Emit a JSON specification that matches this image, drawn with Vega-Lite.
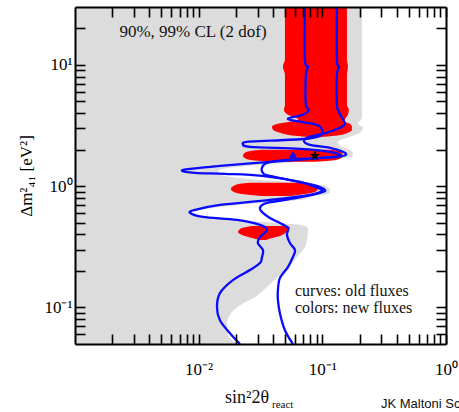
{
  "$schema": "https://vega.github.io/schema/vega-lite/v6.json",
  "width": 371,
  "height": 337,
  "autosize": {"type": "none"},
  "padding": {"left": 75, "top": 7, "right": 13, "bottom": 68},
  "background": "white",
  "config": {
    "view": {"stroke": null},
    "axis": {"grid": false, "labelColor": "#000000", "titleColor": "#000000", "labelFont": "Liberation Serif", "titleFont": "Liberation Serif", "labelFontSize": 17, "titleFontSize": 17, "titleFontWeight": "normal", "labelFlush": false}
  },
  "datasets": {
    "gray": [
      {"y": 30, "x": 0.2089}, {"y": 3.67, "x": 0.2089}, {"y": 3.27, "x": 0.1941}, {"y": 3.03, "x": 0.2128}, {"y": 2.76, "x": 0.2014}, {"y": 2.56, "x": 0.1671}, {"y": 2.32, "x": 0.1336}, {"y": 2.11, "x": 0.1438}, {"y": 1.995, "x": 0.1671}, {"y": 1.884, "x": 0.1766}, {"y": 1.746, "x": 0.1734}, {"y": 1.65, "x": 0.115}, {"y": 1.558, "x": 0.0547}, {"y": 1.472, "x": 0.026}, {"y": 1.364, "x": 0.01486}, {"y": 1.288, "x": 0.01432}, {"y": 1.216, "x": 0.01632}, {"y": 1.127, "x": 0.03131}, {"y": 1.065, "x": 0.06596}, {"y": 1.006, "x": 0.105}, {"y": 0.932, "x": 0.115}, {"y": 0.88, "x": 0.115}, {"y": 0.831, "x": 0.0871}, {"y": 0.77, "x": 0.06596}, {"y": 0.728, "x": 0.03131}, {"y": 0.675, "x": 0.01486}, {"y": 0.637, "x": 0.01024}, {"y": 0.602, "x": 0.00851}, {"y": 0.568, "x": 0.01024}, {"y": 0.537, "x": 0.01791}, {"y": 0.507, "x": 0.03436}, {"y": 0.479, "x": 0.06596}, {"y": 0.452, "x": 0.07638}, {"y": 0.411, "x": 0.07638}, {"y": 0.36, "x": 0.07499}, {"y": 0.315, "x": 0.07228}, {"y": 0.2604, "x": 0.06237}, {"y": 0.2154, "x": 0.0537}, {"y": 0.178, "x": 0.0435}, {"y": 0.1472, "x": 0.0356}, {"y": 0.1217, "x": 0.02851}, {"y": 0.1045, "x": 0.02158}, {"y": 0.0897, "x": 0.01824}, {"y": 0.0742, "x": 0.01694}, {"y": 0.059, "x": 0.01726}, {"y": 0.05, "x": 0.0208}
    ],
    "red": [
      {"island": 1, "y": 30, "xl": 0.04985, "xr": 0.1581}, {"island": 1, "y": 11.06, "xl": 0.04985, "xr": 0.1581}, {"island": 1, "y": 9.67, "xl": 0.04797, "xr": 0.1611}, {"island": 1, "y": 8.31, "xl": 0.04985, "xr": 0.1581}, {"island": 1, "y": 4.7, "xl": 0.04985, "xr": 0.1581}, {"island": 1, "y": 4.27, "xl": 0.0489, "xr": 0.164}, {"island": 1, "y": 3.885, "xl": 0.0527, "xr": 0.1611}, {"island": 1, "y": 3.67, "xl": 0.0612, "xr": 0.155}, {"island": 1, "y": 3.53, "xl": 0.064, "xr": 0.1524}, {"island": 1, "y": 3.4, "xl": 0.0547, "xr": 0.1524}, {"island": 1, "y": 3.27, "xl": 0.04375, "xr": 0.1671}, {"island": 1, "y": 3.09, "xl": 0.03915, "xr": 0.1734}, {"island": 1, "y": 2.92, "xl": 0.0399, "xr": 0.1734}, {"island": 1, "y": 2.76, "xl": 0.04537, "xr": 0.1611}, {"island": 1, "y": 2.6, "xl": 0.0601, "xr": 0.1265}, {"island": 1, "y": 2.53, "xl": 0.0794, "xr": 0.0957},
      {"island": 3, "y": 1.995, "xl": 0.03251, "xr": 0.115}, {"island": 3, "y": 1.957, "xl": 0.027, "xr": 0.1336}, {"island": 3, "y": 1.884, "xl": 0.0237, "xr": 0.1438}, {"island": 3, "y": 1.78, "xl": 0.0228, "xr": 0.1465}, {"island": 3, "y": 1.681, "xl": 0.0241, "xr": 0.1386}, {"island": 3, "y": 1.619, "xl": 0.0301, "xr": 0.115}, {"island": 3, "y": 1.588, "xl": 0.0414, "xr": 0.0871},
      {"island": 4, "y": 1.065, "xl": 0.026, "xr": 0.066}, {"island": 4, "y": 1.045, "xl": 0.02158, "xr": 0.0794}, {"island": 4, "y": 1.006, "xl": 0.01928, "xr": 0.0871}, {"island": 4, "y": 0.95, "xl": 0.01824, "xr": 0.092}, {"island": 4, "y": 0.897, "xl": 0.01928, "xr": 0.0871}, {"island": 4, "y": 0.864, "xl": 0.0224, "xr": 0.0723}, {"island": 4, "y": 0.831, "xl": 0.0325, "xr": 0.0547},
      {"island": 5, "y": 0.47, "xl": 0.027, "xr": 0.0527}, {"island": 5, "y": 0.452, "xl": 0.0224, "xr": 0.0547}, {"island": 5, "y": 0.435, "xl": 0.0212, "xr": 0.0537}, {"island": 5, "y": 0.419, "xl": 0.0208, "xr": 0.0517}, {"island": 5, "y": 0.4035, "xl": 0.02158, "xr": 0.0489}, {"island": 5, "y": 0.3884, "xl": 0.0237, "xr": 0.0454}, {"island": 5, "y": 0.374, "xl": 0.027, "xr": 0.0392}, {"island": 5, "y": 0.36, "xl": 0.0313, "xr": 0.035}
    ],
    "curves": [
      {"curve": "a", "i": 1, "x": 0.07228, "y": 30}, {"curve": "a", "i": 2, "x": 0.07228, "y": 11.06}, {"curve": "a", "i": 3, "x": 0.07638, "y": 9.67}, {"curve": "a", "i": 4, "x": 0.07362, "y": 8.31}, {"curve": "a", "i": 5, "x": 0.07362, "y": 4.7}, {"curve": "a", "i": 6, "x": 0.0778, "y": 4.27}, {"curve": "a", "i": 7, "x": 0.06966, "y": 3.885}, {"curve": "a", "i": 8, "x": 0.0527, "y": 3.6}, {"curve": "a", "i": 9, "x": 0.06596, "y": 3.4}, {"curve": "a", "i": 10, "x": 0.09036, "y": 3.21}, {"curve": "a", "i": 11, "x": 0.09931, "y": 2.92}, {"curve": "a", "i": 12, "x": 0.09572, "y": 2.6}, {"curve": "a", "i": 13, "x": 0.07499, "y": 2.46}, {"curve": "a", "i": 14, "x": 0.03767, "y": 2.37}, {"curve": "a", "i": 15, "x": 0.02453, "y": 2.32}, {"curve": "a", "i": 16, "x": 0.0228, "y": 2.24}, {"curve": "a", "i": 17, "x": 0.026, "y": 2.11}, {"curve": "a", "i": 18, "x": 0.06596, "y": 2.03}, {"curve": "a", "i": 19, "x": 0.115, "y": 1.92}, {"curve": "a", "i": 20, "x": 0.1386, "y": 1.814}, {"curve": "a", "i": 21, "x": 0.1219, "y": 1.746}, {"curve": "a", "i": 22, "x": 0.07943, "y": 1.681}, {"curve": "a", "i": 23, "x": 0.03767, "y": 1.588}, {"curve": "a", "i": 24, "x": 0.01486, "y": 1.472}, {"curve": "a", "i": 25, "x": 0.00851, "y": 1.39}, {"curve": "a", "i": 26, "x": 0.00733, "y": 1.338}, {"curve": "a", "i": 27, "x": 0.00933, "y": 1.288}, {"curve": "a", "i": 28, "x": 0.01632, "y": 1.264}, {"curve": "a", "i": 29, "x": 0.03251, "y": 1.216}, {"curve": "a", "i": 30, "x": 0.06596, "y": 1.085}, {"curve": "a", "i": 31, "x": 0.09204, "y": 0.968}, {"curve": "a", "i": 32, "x": 0.09931, "y": 0.915}, {"curve": "a", "i": 33, "x": 0.07943, "y": 0.847}, {"curve": "a", "i": 34, "x": 0.03767, "y": 0.77}, {"curve": "a", "i": 35, "x": 0.01486, "y": 0.701}, {"curve": "a", "i": 36, "x": 0.00933, "y": 0.637}, {"curve": "a", "i": 37, "x": 0.00851, "y": 0.602}, {"curve": "a", "i": 38, "x": 0.01083, "y": 0.558}, {"curve": "a", "i": 39, "x": 0.02042, "y": 0.527}, {"curve": "a", "i": 40, "x": 0.03131, "y": 0.479}, {"curve": "a", "i": 41, "x": 0.03563, "y": 0.435}, {"curve": "a", "i": 42, "x": 0.03131, "y": 0.381}, {"curve": "a", "i": 43, "x": 0.03011, "y": 0.34}, {"curve": "a", "i": 44, "x": 0.03311, "y": 0.2975}, {"curve": "a", "i": 45, "x": 0.03251, "y": 0.2604}, {"curve": "a", "i": 46, "x": 0.03131, "y": 0.2323}, {"curve": "a", "i": 47, "x": 0.026, "y": 0.2034}, {"curve": "a", "i": 48, "x": 0.01892, "y": 0.1681}, {"curve": "a", "i": 49, "x": 0.01486, "y": 0.1313}, {"curve": "a", "i": 50, "x": 0.01406, "y": 0.1006}, {"curve": "a", "i": 51, "x": 0.01486, "y": 0.0785}, {"curve": "a", "i": 52, "x": 0.01791, "y": 0.0613}, {"curve": "a", "i": 53, "x": 0.02158, "y": 0.05},
      {"curve": "b", "i": 1, "x": 0.1312, "y": 30}, {"curve": "b", "i": 2, "x": 0.1312, "y": 11.06}, {"curve": "b", "i": 3, "x": 0.1361, "y": 9.67}, {"curve": "b", "i": 4, "x": 0.1312, "y": 8.31}, {"curve": "b", "i": 5, "x": 0.1312, "y": 4.7}, {"curve": "b", "i": 6, "x": 0.1336, "y": 4.27}, {"curve": "b", "i": 7, "x": 0.1438, "y": 3.67}, {"curve": "b", "i": 8, "x": 0.1524, "y": 3.27}, {"curve": "b", "i": 9, "x": 0.1386, "y": 3.03}, {"curve": "b", "i": 10, "x": 0.1089, "y": 2.76}, {"curve": "b", "i": 11, "x": 0.07943, "y": 2.56}, {"curve": "b", "i": 12, "x": 0.07096, "y": 2.37}, {"curve": "b", "i": 13, "x": 0.07943, "y": 2.19}, {"curve": "b", "i": 14, "x": 0.115, "y": 2.07}, {"curve": "b", "i": 15, "x": 0.1465, "y": 1.92}, {"curve": "b", "i": 16, "x": 0.1552, "y": 1.814}, {"curve": "b", "i": 17, "x": 0.1336, "y": 1.746}, {"curve": "b", "i": 18, "x": 0.09572, "y": 1.713}, {"curve": "b", "i": 19, "x": 0.05172, "y": 1.65}, {"curve": "b", "i": 20, "x": 0.03563, "y": 1.558}, {"curve": "b", "i": 21, "x": 0.03251, "y": 1.416}, {"curve": "b", "i": 22, "x": 0.03311, "y": 1.288}, {"curve": "b", "i": 23, "x": 0.03767, "y": 1.216}, {"curve": "b", "i": 24, "x": 0.08394, "y": 1.025}, {"curve": "b", "i": 25, "x": 0.105, "y": 0.932}, {"curve": "b", "i": 26, "x": 0.09572, "y": 0.88}, {"curve": "b", "i": 27, "x": 0.06237, "y": 0.8}, {"curve": "b", "i": 28, "x": 0.03563, "y": 0.728}, {"curve": "b", "i": 29, "x": 0.03131, "y": 0.662}, {"curve": "b", "i": 30, "x": 0.03311, "y": 0.602}, {"curve": "b", "i": 31, "x": 0.03767, "y": 0.547}, {"curve": "b", "i": 32, "x": 0.04537, "y": 0.497}, {"curve": "b", "i": 33, "x": 0.0527, "y": 0.452}, {"curve": "b", "i": 34, "x": 0.05172, "y": 0.396}, {"curve": "b", "i": 35, "x": 0.0547, "y": 0.34}, {"curve": "b", "i": 36, "x": 0.06011, "y": 0.2975}, {"curve": "b", "i": 37, "x": 0.05781, "y": 0.2604}, {"curve": "b", "i": 38, "x": 0.0527, "y": 0.2154}, {"curve": "b", "i": 39, "x": 0.04537, "y": 0.1746}, {"curve": "b", "i": 40, "x": 0.04375, "y": 0.139}, {"curve": "b", "i": 41, "x": 0.04375, "y": 0.1149}, {"curve": "b", "i": 42, "x": 0.04537, "y": 0.0897}, {"curve": "b", "i": 43, "x": 0.04985, "y": 0.0649}, {"curve": "b", "i": 44, "x": 0.05781, "y": 0.05}
    ],
    "markers": [
      {"m": "old best fit", "x": 0.0578, "y": 1.814},
      {"m": "new best fit", "x": 0.0871, "y": 1.78}
    ]
  },
  "resolve": {"axis": {"x": "independent", "y": "independent"}},
  "layer": [
    {
      "data": {"name": "gray"},
      "mark": {"type": "area", "orient": "horizontal", "color": "#dcdcdc", "clip": true, "interpolate": "monotone"},
      "encoding": {
        "y": {"field": "y", "type": "quantitative", "scale": {"type": "log", "domain": [0.05, 30], "nice": false},
          "axis": {"orient": "left", "values": [0.06, 0.07, 0.08, 0.09, 0.1, 0.2, 0.3, 0.4, 0.5, 0.6, 0.7, 0.8, 0.9, 1, 2, 3, 4, 5, 6, 7, 8, 9, 10, 20], "tickSize": -10, "tickColor": "#000000", "tickWidth": 1.6, "domain": true, "domainColor": "#000000", "domainWidth": 2, "zindex": 3, "labelPadding": 13, "labelOverlap": false, "labelExpr": "datum.value > 0.099 && datum.value < 0.101 ? '10⁻¹' : datum.value > 0.99 && datum.value < 1.01 ? '10⁰' : datum.value > 9.9 && datum.value < 10.1 ? '10¹' : ''", "title": "Δm²₄₁  [eV²]", "titlePadding": 8}},
        "x": {"field": "x", "type": "quantitative", "scale": {"type": "log", "domain": [0.001, 1], "nice": false},
          "axis": {"orient": "bottom", "values": [0.002, 0.003, 0.004, 0.005, 0.006, 0.007, 0.008, 0.009, 0.01, 0.02, 0.03, 0.04, 0.05, 0.06, 0.07, 0.08, 0.09, 0.1, 0.2, 0.3, 0.4, 0.5, 0.6, 0.7, 0.8, 0.9, 1], "tickSize": -10, "tickColor": "#000000", "tickWidth": 1.6, "domain": true, "domainColor": "#000000", "domainWidth": 2, "zindex": 3, "labelPadding": 27, "labelOverlap": false, "labelExpr": "datum.value > 0.0099 && datum.value < 0.0101 ? '10⁻²' : datum.value > 0.099 && datum.value < 0.101 ? '10⁻¹' : datum.value > 0.99 && datum.value < 1.01 ? '10⁰' : ''", "title": null}},
        "x2": {"datum": 0.001}
      }
    },
    {
      "data": {"name": "red"},
      "mark": {"type": "area", "orient": "horizontal", "color": "#ff0000", "clip": true, "interpolate": "monotone"},
      "encoding": {
        "y": {"field": "y", "type": "quantitative", "scale": {"type": "log", "domain": [0.05, 30], "nice": false},
          "axis": {"orient": "right", "values": [0.06, 0.07, 0.08, 0.09, 0.1, 0.2, 0.3, 0.4, 0.5, 0.6, 0.7, 0.8, 0.9, 1, 2, 3, 4, 5, 6, 7, 8, 9, 10, 20], "tickSize": -10, "tickColor": "#000000", "tickWidth": 1.6, "labels": false, "domain": true, "domainColor": "#000000", "domainWidth": 2, "zindex": 3, "title": null}},
        "x": {"field": "xr", "type": "quantitative", "scale": {"type": "log", "domain": [0.001, 1], "nice": false},
          "axis": {"orient": "top", "values": [0.002, 0.003, 0.004, 0.005, 0.006, 0.007, 0.008, 0.009, 0.01, 0.02, 0.03, 0.04, 0.05, 0.06, 0.07, 0.08, 0.09, 0.1, 0.2, 0.3, 0.4, 0.5, 0.6, 0.7, 0.8, 0.9, 1], "tickSize": -10, "tickColor": "#000000", "tickWidth": 1.6, "labels": false, "domain": true, "domainColor": "#000000", "domainWidth": 2, "zindex": 3, "title": null}},
        "x2": {"field": "xl"},
        "detail": {"field": "island"}
      }
    },
    {
      "data": {"name": "curves"},
      "mark": {"type": "line", "color": "#0a0aff", "strokeWidth": 2.3, "clip": true, "interpolate": "cardinal"},
      "encoding": {
        "y": {"field": "y", "type": "quantitative", "scale": {"type": "log", "domain": [0.05, 30], "nice": false}, "axis": null},
        "x": {"field": "x", "type": "quantitative", "scale": {"type": "log", "domain": [0.001, 1], "nice": false}, "axis": null},
        "detail": {"field": "curve"},
        "order": {"field": "i"}
      }
    },
    {
      "data": {"name": "markers"},
      "mark": {"type": "point", "filled": true, "opacity": 1, "clip": true},
      "encoding": {
        "y": {"field": "y", "type": "quantitative", "scale": {"type": "log", "domain": [0.05, 30], "nice": false}, "axis": null},
        "x": {"field": "x", "type": "quantitative", "scale": {"type": "log", "domain": [0.001, 1], "nice": false}, "axis": null},
        "shape": {"field": "m", "type": "nominal", "scale": {"domain": ["old best fit", "new best fit"], "range": ["triangle-up", "M0,-1L0.23,-0.32L0.95,-0.31L0.37,0.12L0.59,0.81L0,0.39L-0.59,0.81L-0.37,0.12L-0.95,-0.31L-0.23,-0.32Z"]}, "legend": null},
        "color": {"field": "m", "type": "nominal", "scale": {"domain": ["old best fit", "new best fit"], "range": ["#1010f0", "#000000"]}, "legend": null},
        "size": {"field": "m", "type": "nominal", "scale": {"domain": ["old best fit", "new best fit"], "range": [75, 120]}, "legend": null}
      }
    },
    {
      "data": {"values": [{"label": "90%, 99% CL (2 dof)", "x": 0.009, "y": 18.5}]},
      "mark": {"type": "text", "font": "Liberation Serif", "fontSize": 17, "align": "center", "baseline": "middle", "color": "#111"},
      "encoding": {
        "x": {"field": "x", "type": "quantitative", "scale": {"type": "log", "domain": [0.001, 1], "nice": false}, "axis": null},
        "y": {"field": "y", "type": "quantitative", "scale": {"type": "log", "domain": [0.05, 30], "nice": false}, "axis": null},
        "text": {"field": "label"}
      }
    },
    {
      "data": {"values": [{"label": "curves: old fluxes", "x": 0.0601, "y": 0.1364}, {"label": "colors: new fluxes", "x": 0.0601, "y": 0.0987}]},
      "mark": {"type": "text", "font": "Liberation Serif", "fontSize": 16, "align": "left", "baseline": "middle", "color": "#111"},
      "encoding": {
        "x": {"field": "x", "type": "quantitative", "scale": {"type": "log", "domain": [0.001, 1], "nice": false}, "axis": null},
        "y": {"field": "y", "type": "quantitative", "scale": {"type": "log", "domain": [0.05, 30], "nice": false}, "axis": null},
        "text": {"field": "label"}
      }
    },
    {
      "data": {"values": [{"label": "sin²2θ", "x": 0.0246, "y": 0.0178}]},
      "mark": {"type": "text", "font": "Liberation Serif", "fontSize": 18, "align": "center", "baseline": "middle", "color": "#111"},
      "encoding": {
        "x": {"field": "x", "type": "quantitative", "scale": {"type": "log", "domain": [0.001, 1], "nice": false}, "axis": null},
        "y": {"field": "y", "type": "quantitative", "scale": {"type": "log", "domain": [0.05, 30], "nice": false}, "axis": null},
        "text": {"field": "label"}
      }
    },
    {
      "data": {"values": [{"label": "react", "x": 0.03915, "y": 0.01559}]},
      "mark": {"type": "text", "font": "Liberation Serif", "fontSize": 11, "align": "left", "baseline": "middle", "color": "#111"},
      "encoding": {
        "x": {"field": "x", "type": "quantitative", "scale": {"type": "log", "domain": [0.001, 1], "nice": false}, "axis": null},
        "y": {"field": "y", "type": "quantitative", "scale": {"type": "log", "domain": [0.05, 30], "nice": false}, "axis": null},
        "text": {"field": "label"}
      }
    },
    {
      "data": {"values": [{"label": "JK Maltoni Schwetz", "x": 0.2979, "y": 0.01589}]},
      "mark": {"type": "text", "font": "Liberation Sans", "fontSize": 13, "align": "left", "baseline": "middle", "color": "#111"},
      "encoding": {
        "x": {"field": "x", "type": "quantitative", "scale": {"type": "log", "domain": [0.001, 1], "nice": false}, "axis": null},
        "y": {"field": "y", "type": "quantitative", "scale": {"type": "log", "domain": [0.05, 30], "nice": false}, "axis": null},
        "text": {"field": "label"}
      }
    }
  ]
}
